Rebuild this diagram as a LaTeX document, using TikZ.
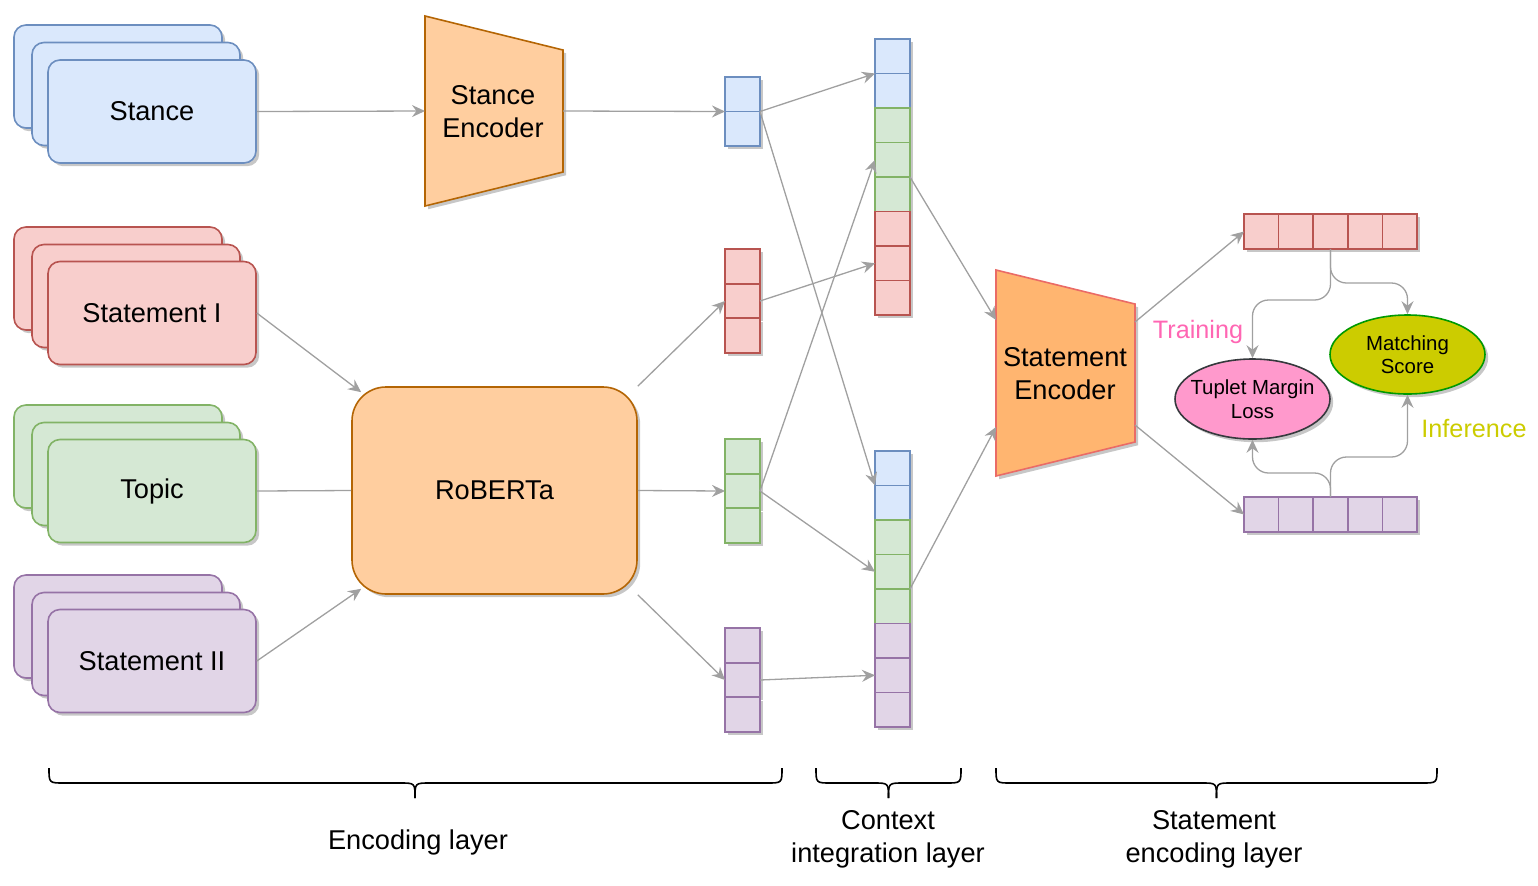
\documentclass[tikz,border=0pt]{standalone}
\usepackage{fontspec}
\setmainfont{Liberation Sans}
\usetikzlibrary{arrows.meta,shadows,calc,shapes.geometric}
\definecolor{bfill}{HTML}{DAE8FC}\definecolor{bline}{HTML}{6C8EBF}
\definecolor{rfill}{HTML}{F8CECC}\definecolor{rline}{HTML}{B85450}
\definecolor{gfill}{HTML}{D5E8D4}\definecolor{gline}{HTML}{82B366}
\definecolor{pfill}{HTML}{E1D5E7}\definecolor{pline}{HTML}{9673A6}
\definecolor{ofill}{HTML}{FFCE9F}\definecolor{oline}{HTML}{B46504}
\definecolor{sfill}{HTML}{FFB570}\definecolor{sline}{HTML}{EA6B66}
\definecolor{tfill}{HTML}{FF99CC}\definecolor{tline}{HTML}{36393D}
\definecolor{mfill}{HTML}{CCCC00}\definecolor{mline}{HTML}{009900}
\definecolor{agray}{HTML}{A0A0A0}
\definecolor{trainc}{HTML}{FF66B3}\definecolor{infc}{HTML}{CCCC00}
\begin{document}
\begin{tikzpicture}[x=0.5pt,y=-0.5pt,
  shad/.style={drop shadow={shadow xshift=1.6pt,shadow yshift=-1.6pt,fill=black,opacity=0.22}},
  big/.style={font=\fontsize{13.6}{16.5}\selectfont, align=center},
  small/.style={font=\fontsize{10.2}{11.8}\selectfont, align=center},
  card/.style={draw, rounded corners=6pt, minimum width=104pt, minimum height=51.5pt, line width=0.8pt, shad, big, inner sep=0pt},
  bl/.style={fill=bfill, draw=bline},
  rd/.style={fill=rfill, draw=rline},
  gr/.style={fill=gfill, draw=gline},
  pu/.style={fill=pfill, draw=pline},
  cell/.style={draw, line width=0.8pt, minimum width=17.5pt, minimum height=17.25pt, inner sep=0pt, outer sep=0pt, shad},
  hcell/.style={draw, line width=0.8pt, minimum width=17.3pt, minimum height=17.5pt, inner sep=0pt, outer sep=0pt, shad},
  conn/.style={draw=agray, line width=0.65pt, -{Stealth[length=6.5pt,width=6pt,inset=2.2pt,fill=agray]}},
  plain/.style={draw=agray, line width=0.65pt},
  br/.style={draw=black, line width=0.8pt},
  edge/.style={line width=0.8pt},
]
\useasboundingbox (0,0) rectangle (1538,885);

% ---- input stacks
\node[card,bl] (st3) at (118,76.5) {};
\node[card,bl] (st2) at (136,94) {};
\node[card,bl] (st1) at (152,111.5) {Stance};

\node[card,rd] (si3) at (118,278.5) {};
\node[card,rd] (si2) at (136,296) {};
\node[card,rd] (si1) at (152,313) {Statement I};

\node[card,gr] (tp3) at (118,456.5) {};
\node[card,gr] (tp2) at (136,474) {};
\node[card,gr] (tp1) at (152,491) {Topic};

\node[card,pu] (sii3) at (118,626.5) {};
\node[card,pu] (sii2) at (136,644) {};
\node[card,pu] (sii1) at (152,661) {Statement II};

% ---- stance encoder
\filldraw[fill=ofill, draw=oline, line width=0.8pt, shad] (425,16) -- (563,50) -- (563,172) -- (425,206) -- cycle;
\node[big] (senc) at (493,112) {Stance\\Encoder};
\coordinate (senc-in) at (425,111);
\coordinate (senc-out) at (563,111);

% ---- RoBERTa
\node[draw=oline, fill=ofill, line width=0.8pt, rounded corners=17pt, minimum width=142.5pt, minimum height=103.5pt, shad, big] (rob) at (494.5,490.5) {RoBERTa};

% ---- encoding vectors
\node[cell,bl] (vb1) at (742.5,94.25) {};
\node[cell,bl] (vb2) at (742.5,128.75) {};
\foreach \i in {1,2,3}{
  \node[cell,rd] (r\i) at (742.5,{249+34.67*(\i-0.5)}) {};
}
\foreach \i in {1,2,3}{
  \node[cell,gr] (g\i) at (742.5,{439+34.67*(\i-0.5)}) {};
}
\foreach \i in {1,2,3}{
  \node[cell,pu] (p\i) at (742.5,{628+34.67*(\i-0.5)}) {};
}
\foreach \n/\c in {vb1/bline,vb2/bline,r1/rline,r2/rline,r3/rline,g1/gline,g2/gline,g3/gline,p1/pline,p2/pline,p3/pline}{
  \draw[edge, draw=\c] (\n.north west) rectangle (\n.south east);
}

% ---- context columns
\foreach \i/\s in {1/bl,2/bl,3/gr,4/gr,5/gr,6/rd,7/rd,8/rd}{
  \node[cell,\s] (c\i) at (892.5,{39+34.5*(\i-0.5)}) {};
}
\foreach \i/\s in {1/bl,2/bl,3/gr,4/gr,5/gr,6/pu,7/pu,8/pu}{
  \node[cell,\s] (d\i) at (892.5,{451+34.5*(\i-0.5)}) {};
}
\foreach \n/\c in {c1/bline,c2/bline,c3/gline,c4/gline,c5/gline,c6/rline,c7/rline,c8/rline,d1/bline,d2/bline,d3/gline,d4/gline,d5/gline,d6/pline,d7/pline,d8/pline}{
  \draw[edge, draw=\c] (\n.north west) rectangle (\n.south east);
}

% ---- statement encoder
\filldraw[fill=sfill, draw=sline, line width=0.8pt, shad] (996,270) -- (1135,304) -- (1135,442) -- (996,476) -- cycle;
\node[big] (stenc) at (1065,374) {Statement\\Encoder};
\coordinate (stenc-in1) at (996,320);
\coordinate (stenc-in2) at (996,427);
\coordinate (stenc-out1) at (1135,322);
\coordinate (stenc-out2) at (1135,425);

% ---- output rows
\foreach \i in {1,...,5}{
  \node[hcell,rd] (o\i) at ({1244+34.6*(\i-0.5)},231.5) {};
}
\foreach \i in {1,...,5}{
  \node[hcell,pu] (q\i) at ({1244+34.6*(\i-0.5)},514.5) {};
}
\foreach \i in {1,...,5}{
  \draw[edge, draw=rline] (o\i.north west) rectangle (o\i.south east);
  \draw[edge, draw=pline] (q\i.north west) rectangle (q\i.south east);
}

% ---- ellipses
\node[draw=tline, fill=tfill, line width=0.8pt, ellipse, minimum width=77.5pt, minimum height=40pt, inner sep=0pt, shad] (tml) at (1252.5,399) {};
\node[small] (tmltext) at (tml.center) {Tuplet Margin\\Loss};
\node[draw=mline, fill=mfill, line width=0.8pt, ellipse, minimum width=77.5pt, minimum height=39.5pt, inner sep=0pt, shad] (ms) at (1407.5,354.5) {};
\node[small] (mstext) at (ms.center) {Matching\\Score};

\node[font=\fontsize{12.6}{14}\selectfont, text=trainc] (train) at (1198,332) {Training};
\node[font=\fontsize{12.6}{14}\selectfont, text=infc] (infer) at (1474,428) {Inference};

% ---- connectors
\draw[conn] (st1.east) -- (senc-in);
\draw[conn] (senc-out) -- (vb1.south west);
\draw[conn] (si1.east) -- ([shift={(10,6)}]rob.north west);
\draw[plain] (tp1.east) -- (rob.west);
\draw[conn] (sii1.east) -- ([shift={(10,-6)}]rob.south west);

\draw[conn] (rob.north east) -- (r2.west);
\draw[conn] (rob.east) -- (g2.west);
\draw[conn] (rob.south east) -- (p2.west);

\draw[conn] (vb1.south east) -- (c1.south west);
\draw[conn] (vb1.south east) -- (d1.south west);
\draw[conn] (r2.east) -- (c7.west);
\draw[conn] (g2.east) -- (c4.west);
\draw[conn] (g2.east) -- (d4.west);
\draw[conn] (p2.east) -- (d7.west);

\draw[conn] (c4.south east) -- (stenc-in1);
\draw[conn] (d4.south east) -- (stenc-in2);
\draw[conn] (stenc-out1) -- (o1.west);
\draw[conn] (stenc-out2) -- (q1.west);

\draw[conn, rounded corners=8pt] (o3.south) -- (o3.south |- 0,300) -| (tml.north);
\draw[conn, rounded corners=8pt] (o3.south) -- (o3.south |- 0,283) -| (ms.north);
\draw[conn, rounded corners=8pt] (q3.north) -- (q3.north |- 0,473) -| (tml.south);
\draw[conn, rounded corners=8pt] (q3.north) -- (q3.north |- 0,457) -| (ms.south);

% ---- braces
\draw[br] (49,768) .. controls (49,783) .. (64,783) -- (400,783) .. controls (415,783) .. (415,798);
\draw[br] (782,768) .. controls (782,783) .. (767,783) -- (430,783) .. controls (415,783) .. (415,798);
\draw[br] (816,768) .. controls (816,783) .. (831,783) -- (873.5,783) .. controls (888.5,783) .. (888.5,798);
\draw[br] (961,768) .. controls (961,783) .. (946,783) -- (903.5,783) .. controls (888.5,783) .. (888.5,798);
\draw[br] (996,768) .. controls (996,783) .. (1011,783) -- (1201.5,783) .. controls (1216.5,783) .. (1216.5,798);
\draw[br] (1437,768) .. controls (1437,783) .. (1422,783) -- (1231.5,783) .. controls (1216.5,783) .. (1216.5,798);

\node[big] (enc) at (418,842) {Encoding layer};
\node[big] (ctx) at (888,839) {Context\\integration layer};
\node[big] (sel) at (1214,839) {Statement\\encoding layer};
\end{tikzpicture}
\end{document}
